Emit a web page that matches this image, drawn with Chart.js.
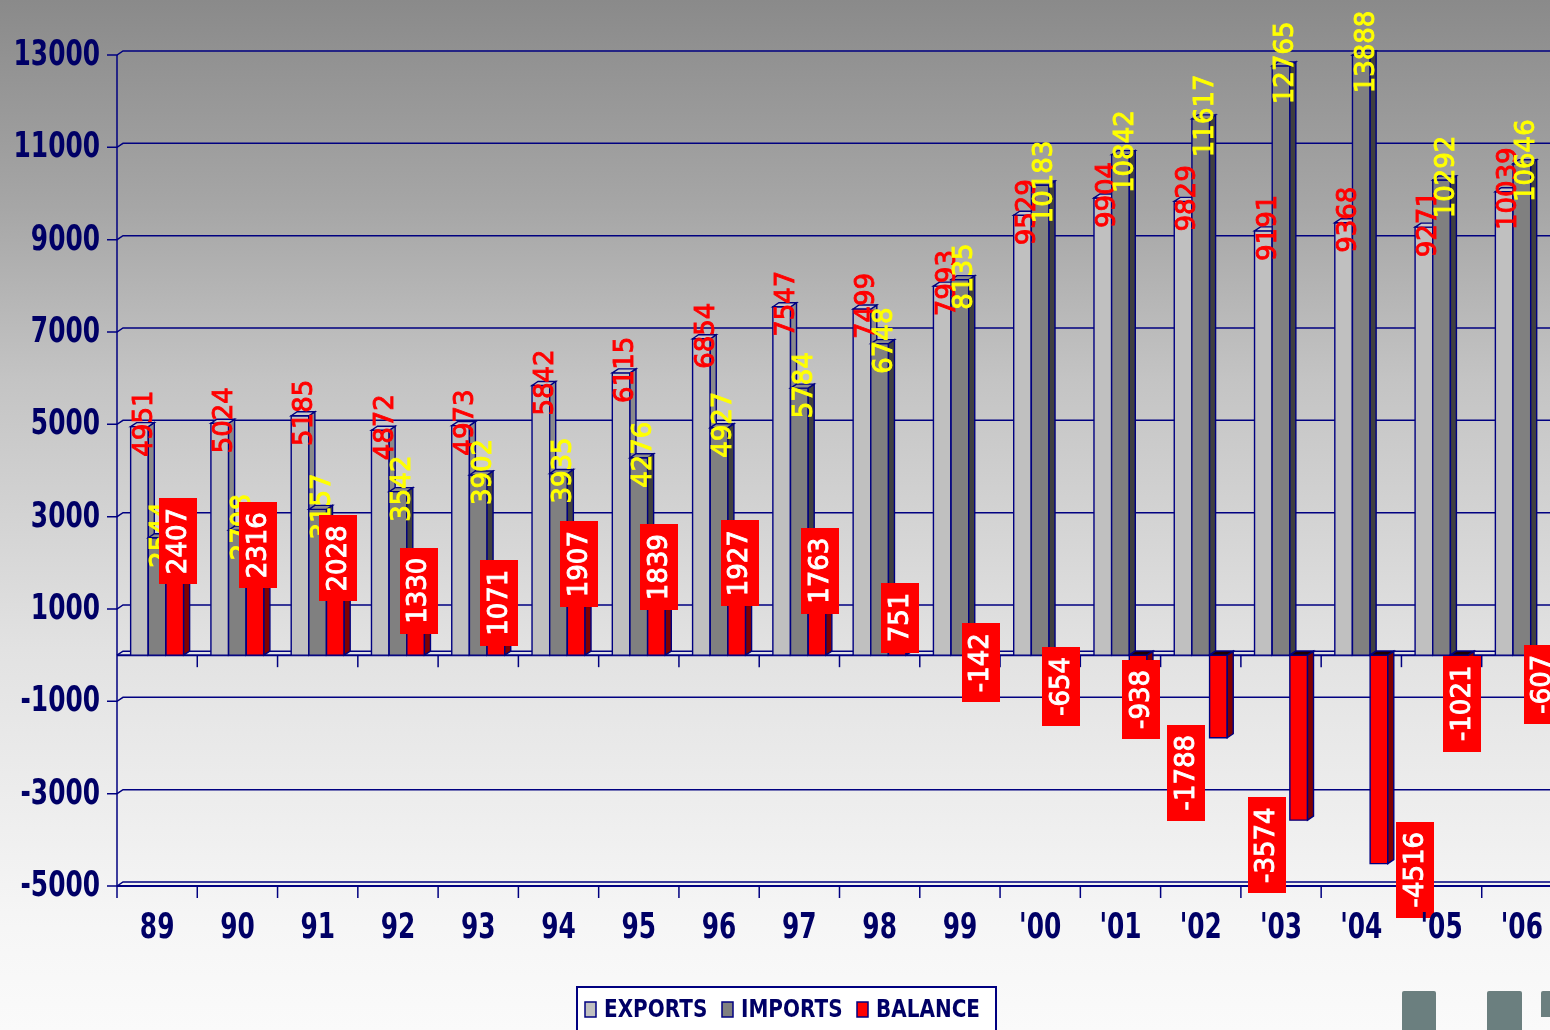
<!DOCTYPE html>
<html><head><meta charset="utf-8">
<script src="https://cdn.jsdelivr.net/npm/chart.js@4.4.1/dist/chart.umd.min.js"></script>
<style>
html,body{margin:0;padding:0;overflow:hidden;width:1550px;height:1030px;}
#wrap{position:relative;width:1550px;height:1030px;overflow:hidden;
 background:linear-gradient(to bottom,#8a8a8a 0%,#a6a6a6 20%,#c4c4c4 37%,#e2e2e2 63%,#f6f6f6 90%,#fafafa 100%);}
canvas{position:absolute;left:0;top:0;}
.sq{position:absolute;background:#6b7f7f;border-radius:2px 2px 0 0;}
</style></head><body>
<div id="wrap">
<canvas id="c" width="1575" height="1030"></canvas>
<div class="sq" style="left:1402px;top:991px;width:34px;height:40px"></div>
<div class="sq" style="left:1487px;top:991px;width:35px;height:40px"></div>
<div class="sq" style="left:1541px;top:991px;width:12px;height:26px"></div>
</div>
<script>
const categories = ["89","90","91","92","93","94","95","96","97","98","99","'00","'01","'02","'03","'04","'05","'06"];
const exportsValues = [4951,5024,5185,4872,4973,5842,6115,6854,7547,7499,7993,9529,9904,9829,9191,9368,9271,10039];
const importsValues = [2544,2708,3157,3542,3902,3935,4276,4927,5784,6748,8135,10183,10842,11617,12765,13888,10292,10646];
const balanceValues = [2407,2316,2028,1330,1071,1907,1839,1927,1763,751,-142,-654,-938,-1788,-3574,-4516,-1021,-607];
const yTicks = [13000,11000,9000,7000,5000,3000,1000,-1000,-3000,-5000];
const seriesNames = ["EXPORTS","IMPORTS","BALANCE"];

const DX = 6, DY = -4;
const NAVY = '#000080';
const TXT = '#000066';
const faces = [
  {front:'#c0c0c0', side:'#8a8a8a', top:'#c8c8c8'},
  {front:'#808080', side:'#404040', top:'#8a8a8a'},
  {front:'#ff0000', side:'#800000', top:'#ff1a1a'}
];
const LABEL_FONT = '26px "DejaVu Sans"';

function poly(ctx, pts, fill){
  ctx.beginPath(); ctx.moveTo(pts[0][0], pts[0][1]);
  for (let i=1;i<pts.length;i++) ctx.lineTo(pts[i][0], pts[i][1]);
  ctx.closePath(); ctx.fillStyle = fill; ctx.fill();
  ctx.strokeStyle = NAVY; ctx.lineWidth = 1.4; ctx.stroke();
}
function vtext(ctx, txt, cx, cy, color){
  ctx.save(); ctx.translate(cx, cy); ctx.rotate(-Math.PI/2);
  ctx.font = LABEL_FONT; ctx.fillStyle = color; ctx.strokeStyle = color; ctx.lineWidth = 0.9;
  ctx.textAlign = 'center'; ctx.textBaseline = 'middle';
  ctx.fillText(txt, 0, 1); ctx.strokeText(txt, 0, 1); ctx.restore();
}
function stext(ctx, txt, x, y, font, sx, align){
  ctx.save(); ctx.translate(x, y); ctx.scale(sx, 1);
  ctx.font = font; ctx.fillStyle = TXT; ctx.textAlign = align; ctx.textBaseline = 'middle';
  ctx.fillText(txt, 0, 0); ctx.restore();
}

const backWall = {
  id: 'backWall',
  beforeDatasetsDraw(chart){
    const {ctx, chartArea: a, scales: {y}} = chart;
    const n = categories.length, w = (a.right - a.left) / n;
    ctx.save();
    ctx.strokeStyle = NAVY; ctx.lineWidth = 1.5;
    yTicks.forEach(v => {
      const py = y.getPixelForValue(v);
      ctx.beginPath(); ctx.moveTo(a.left-10, py); ctx.lineTo(a.left, py);
      ctx.lineTo(a.left+DX, py+DY); ctx.lineTo(a.right+DX, py+DY); ctx.stroke();
    });
    const p0 = y.getPixelForValue(0);
    ctx.beginPath(); ctx.moveTo(a.left, p0); ctx.lineTo(a.left+DX, p0+DY); ctx.lineTo(a.right+DX, p0+DY); ctx.stroke();
    ctx.lineWidth = 2;
    ctx.beginPath(); ctx.moveTo(a.left, p0); ctx.lineTo(a.right, p0); ctx.stroke();
    const pb = y.getPixelForValue(-5000);
    ctx.beginPath(); ctx.moveTo(a.left, pb); ctx.lineTo(a.right, pb); ctx.stroke();
    ctx.lineWidth = 1.5;
    ctx.beginPath(); ctx.moveTo(a.left, y.getPixelForValue(13000)); ctx.lineTo(a.left, pb+12); ctx.stroke();
    for (let i = 1; i <= n; i++){
      const px = a.left + i*w;
      ctx.beginPath(); ctx.moveTo(px, p0); ctx.lineTo(px, p0+12); ctx.stroke();
      ctx.beginPath(); ctx.moveTo(px, pb); ctx.lineTo(px, pb+12); ctx.stroke();
    }
    ctx.restore();
  }
};

// Bars are drawn as 3D boxes from the bar elements that Chart.js laid out.
const bars3d = {
  id: 'bars3d',
  beforeDatasetDraw(){ return false; },
  afterDatasetsDraw(chart, args, opts){
    const ctx = chart.ctx, a = chart.chartArea;
    const tops = [[], [], []];
    ctx.save();
    [0, 1, 2].forEach(di => {
      const fc = faces[di];
      chart.getDatasetMeta(di).data.forEach((bar, i) => {
        const p = bar.getProps(['x','y','base','width'], true);
        const x0 = p.x - p.width/2, x1 = p.x + p.width/2;
        const top = Math.max(Math.min(p.y, p.base), a.top);
        const bot = Math.min(Math.max(p.y, p.base), a.bottom);
        poly(ctx, [[x0,top],[x1,top],[x1,bot],[x0,bot]], fc.front);
        poly(ctx, [[x1,top],[x1+DX,top+DY],[x1+DX,bot+DY],[x1,bot]], fc.side);
        poly(ctx, [[x0,top],[x0+DX,top+DY],[x1+DX,top+DY],[x1,top]], p.y > p.base ? '#200000' : fc.top);
        tops[di][i] = {x: p.x, y: Math.max(p.y, a.top), end: p.y};
      });
    });
    tops[0].forEach((t, i) => vtext(ctx, String(exportsValues[i]), t.x + 4.5, t.y - 3, '#ff0000'));
    tops[1].forEach((t, i) => vtext(ctx, String(importsValues[i]), t.x + 4.5, t.y - 3, '#ffff00'));
    tops[2].forEach((t, i) => {
      const v = balanceValues[i], s = String(v);
      const nd = (opts.nudge && opts.nudge[i]) || [0, 0];
      const cx = t.x + 3 + nd[0];
      const cy = (v >= 0 ? t.end - 3 : t.end + 1) + nd[1];
      ctx.font = LABEL_FONT;
      const len = ctx.measureText(s).width + 20;
      ctx.fillStyle = '#ff0000';
      ctx.fillRect(Math.round(cx - 19), Math.round(cy - len/2), 38, Math.round(len));
      vtext(ctx, s, cx, cy, '#ffffff');
    });
    ctx.restore();
  }
};

const axisText = {
  id: 'axisText',
  afterDraw(chart){
    const {ctx, scales: {x, y}} = chart;
    yTicks.forEach(v => stext(ctx, String(v), 100, y.getPixelForValue(v) + 1, 'bold 35px "DejaVu Sans"', 0.71, 'right'));
    categories.forEach((c, i) => stext(ctx, c, x.getPixelForValue(i), 929, 'bold 35px "DejaVu Sans"', 0.71, 'center'));
    ctx.save();
    ctx.fillStyle = '#ffffff'; ctx.fillRect(577, 987, 419, 60);
    ctx.strokeStyle = NAVY; ctx.lineWidth = 2; ctx.strokeRect(577, 987, 419, 60);
    const sw = [585, 722, 857];
    chart.data.datasets.forEach((ds, i) => {
      ctx.fillStyle = ds.backgroundColor; ctx.fillRect(sw[i], 1002, 11, 15);
      ctx.strokeStyle = NAVY; ctx.lineWidth = 1.5; ctx.strokeRect(sw[i], 1002, 11, 15);
      stext(ctx, ds.label, sw[i] + 19, 1010, 'bold 25px "DejaVu Sans"', 0.8, 'left');
    });
    ctx.restore();
  }
};

const mk = (i, data) => ({
  label: seriesNames[i], data, backgroundColor: faces[i].front,
  borderColor: NAVY, borderWidth: 1, borderSkipped: false,
  categoryPercentage: 0.66, barPercentage: 1.0
});

new Chart(document.getElementById('c'), {
  type: 'bar',
  data: {
    labels: categories,
    datasets: [mk(0, exportsValues), mk(1, importsValues), mk(2, balanceValues)]
  },
  options: {
    responsive: false, animation: false,
    layout: { padding: { left: 117, top: 55, right: 13, bottom: 144 } },
    scales: {
      x: { display: false, offset: true },
      y: { display: false, min: -5000, max: 13000 }
    },
    plugins: {
      legend: { display: false }, tooltip: { enabled: false },
      bars3d: { nudge: { 13: [-35, 34], 14: [-35, 24], 15: [33, 5] } }
    }
  },
  plugins: [backWall, bars3d, axisText]
});
</script>
</body></html>
